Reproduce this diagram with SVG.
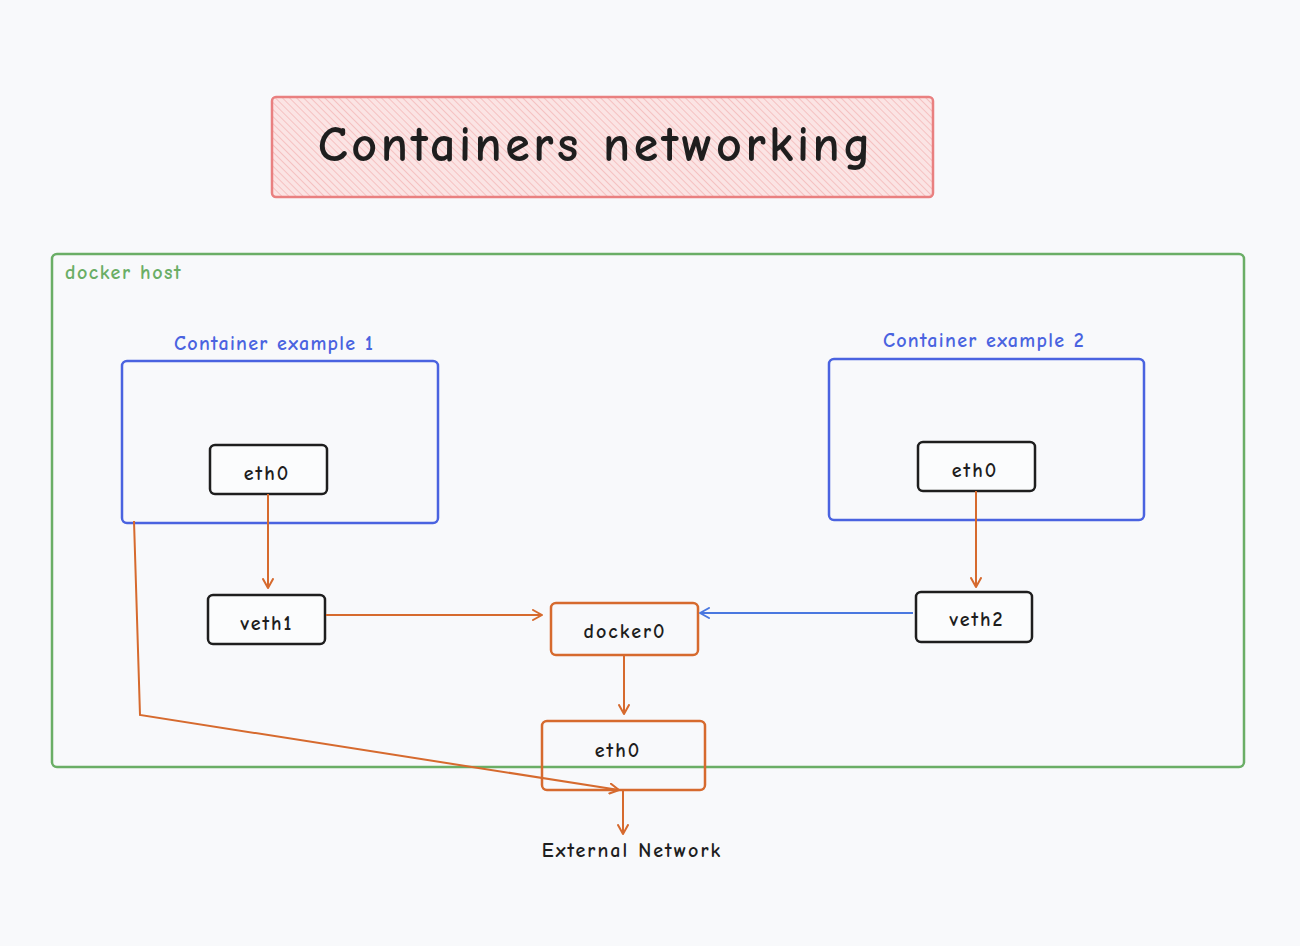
<svg xmlns="http://www.w3.org/2000/svg" width="1300" height="946" viewBox="0 0 1300 946">
<defs>
<pattern id="hatch" width="5" height="5" patternUnits="userSpaceOnUse" patternTransform="rotate(-45)">
<rect width="5" height="5" fill="#fbe4e4"/>
<line x1="0" y1="0" x2="0" y2="5" stroke="#f3b5b5" stroke-width="1.5"/>
</pattern>
<marker id="aO" markerWidth="12" markerHeight="12" refX="10" refY="6" orient="auto" markerUnits="userSpaceOnUse">
<path d="M1,1 L10,6 L1,11" fill="none" stroke="#d66a2e" stroke-width="2" stroke-linecap="round" stroke-linejoin="round"/>
</marker>
<marker id="aB" markerWidth="12" markerHeight="12" refX="10" refY="6" orient="auto" markerUnits="userSpaceOnUse">
<path d="M1,1 L10,6 L1,11" fill="none" stroke="#4a78e0" stroke-width="2" stroke-linecap="round" stroke-linejoin="round"/>
</marker>
</defs>
<style>
text{font-family:"Comic Neue","Lato","Noto Sans",sans-serif;font-weight:bold;}
.t{fill:#1e1e1e;font-size:20px;text-anchor:middle;letter-spacing:2px;}
.blk{fill:#fbfcfd;stroke:#1e1e1e;stroke-width:2.5;}
.org{fill:none;stroke:#d66a2e;stroke-width:2.5;}
.cont{fill:none;stroke:#4a63e0;stroke-width:2.5;}
.cl{fill:#4a63e0;font-size:20px;text-anchor:middle;letter-spacing:1.3px;}
.c{fill:none;stroke:#d66a2e;stroke-width:2;marker-end:url(#aO);}
</style>
<rect width="1300" height="946" fill="#f8f9fb"/>
<g id="title">
<rect x="272" y="97" width="661" height="100" rx="4" fill="url(#hatch)" stroke="#e98080" stroke-width="2.5"/>
<text x="596" y="161" style="font-size:50px;fill:#1e1e1e;text-anchor:middle;letter-spacing:3.5px">Containers networking</text>
</g>
<g id="docker-host">
<rect x="52" y="254" width="1192" height="513" rx="5" fill="none" stroke="#6aae66" stroke-width="2.5"/>
<text x="65" y="279" style="fill:#6aae66;font-size:20px;letter-spacing:1.5px">docker host</text>
</g>
<g id="container1">
<rect class="cont" x="122" y="361" width="316" height="162" rx="5"/>
<text class="cl" x="274" y="350">Container example 1</text>
</g>
<g id="container2">
<rect class="cont" x="829" y="359" width="315" height="161" rx="5"/>
<text class="cl" x="984" y="347">Container example 2</text>
</g>
<g id="eth0-c1">
<rect class="blk" x="210" y="445" width="117" height="49" rx="5"/>
<text class="t" x="267" y="480">eth0</text>
</g>
<g id="eth0-c2">
<rect class="blk" x="918" y="442" width="117" height="49" rx="5"/>
<text class="t" x="975" y="477">eth0</text>
</g>
<g id="veth1">
<rect class="blk" x="208" y="595" width="117" height="49" rx="5"/>
<text class="t" x="267" y="630">veth1</text>
</g>
<g id="veth2">
<rect class="blk" x="916" y="592" width="116" height="50" rx="5"/>
<text class="t" x="977" y="626">veth2</text>
</g>
<g id="docker0">
<rect class="org" x="551" y="603" width="147" height="52" rx="5"/>
<text class="t" x="625" y="638">docker0</text>
</g>
<g id="eth0-host">
<rect class="org" x="542" y="721" width="163" height="69" rx="5"/>
<text class="t" x="618" y="757">eth0</text>
</g>
<g id="external">
<text class="t" x="632" y="857">External Network</text>
</g>
<g id="connectors">
<path class="c" d="M268,494 L268,588"/>
<path class="c" d="M976,491 L976,587"/>
<path class="c" d="M326,615 L542,615"/>
<path d="M913,613 L700,613" fill="none" stroke="#4a78e0" stroke-width="2" marker-end="url(#aB)"/>
<path class="c" d="M624,655 L624,714"/>
<path class="c" d="M623,790 L623,834"/>
<path class="c" d="M134,521 L140,715 L619,790"/>
</g>
</svg>
